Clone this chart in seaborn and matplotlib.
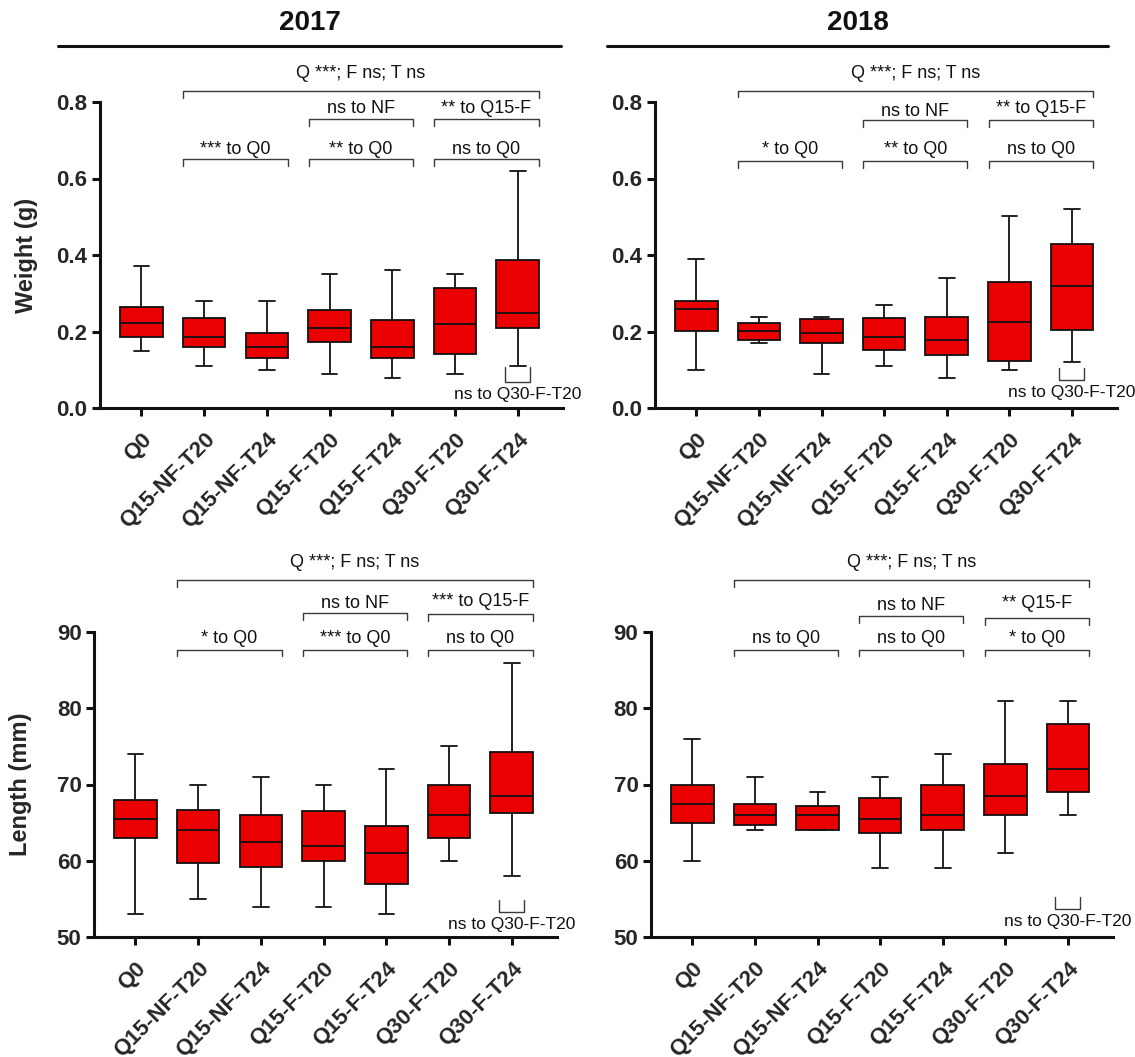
"""Weight and length box plots for the 2017 and 2018 cohorts (Q/F/T treatments)."""

import matplotlib
matplotlib.use("Agg")
import matplotlib.pyplot as plt
import pandas as pd
import seaborn as sns

groups = ["Q0", "Q15-NF-T20", "Q15-NF-T24", "Q15-F-T20", "Q15-F-T24", "Q30-F-T20", "Q30-F-T24"]

# five-number summaries per group: min, q1, median, q3, max
weight_2017 = [
    [0.148, 0.185, 0.223, 0.263, 0.370],
    [0.110, 0.159, 0.185, 0.235, 0.281],
    [0.100, 0.132, 0.159, 0.197, 0.281],
    [0.090, 0.172, 0.209, 0.255, 0.350],
    [0.078, 0.132, 0.159, 0.229, 0.360],
    [0.090, 0.141, 0.220, 0.315, 0.350],
    [0.110, 0.210, 0.249, 0.387, 0.620],
]
weight_2018 = [
    [0.100, 0.201, 0.260, 0.281, 0.390],
    [0.169, 0.179, 0.201, 0.221, 0.239],
    [0.090, 0.169, 0.195, 0.233, 0.239],
    [0.110, 0.152, 0.185, 0.235, 0.270],
    [0.078, 0.139, 0.179, 0.238, 0.339],
    [0.100, 0.124, 0.224, 0.330, 0.501],
    [0.119, 0.205, 0.319, 0.430, 0.519],
]
length_2017 = [
    [53.0, 63.0, 65.5, 68.0, 74.0],
    [55.0, 59.7, 64.0, 66.7, 70.0],
    [54.0, 59.2, 62.5, 66.0, 71.0],
    [54.0, 60.0, 62.0, 66.5, 70.0],
    [53.0, 57.0, 61.0, 64.5, 72.0],
    [60.0, 63.0, 66.0, 70.0, 75.0],
    [58.0, 66.2, 68.5, 74.25, 86.0],
]
length_2018 = [
    [60.0, 65.0, 67.5, 70.0, 76.0],
    [64.0, 64.7, 66.0, 67.5, 71.0],
    [64.0, 64.0, 66.0, 67.2, 69.0],
    [59.0, 63.7, 65.5, 68.2, 71.0],
    [59.0, 64.0, 66.0, 70.0, 74.0],
    [61.0, 66.0, 68.5, 72.7, 81.0],
    [66.0, 69.0, 72.0, 78.0, 81.0],
]

# significance brackets: (first group, last group, bracket y, label, label y)
brackets_w17 = [
    (1, 6, 0.828, "Q ***; F ns; T ns", 0.874),
    (3, 4, 0.756, "ns to NF", 0.782),
    (5, 6, 0.756, "** to Q15-F", 0.782),
    (1, 2, 0.651, "*** to Q0", 0.675),
    (3, 4, 0.651, "** to Q0", 0.675),
    (5, 6, 0.651, "ns to Q0", 0.675),
]
brackets_w18 = [
    (1, 6, 0.830, "Q ***; F ns; T ns", 0.874),
    (3, 4, 0.752, "ns to NF", 0.776),
    (5, 6, 0.752, "** to Q15-F", 0.782),
    (1, 2, 0.645, "* to Q0", 0.675),
    (3, 4, 0.645, "** to Q0", 0.675),
    (5, 6, 0.645, "ns to Q0", 0.675),
]
brackets_l17 = [
    (1, 6, 96.8, "Q ***; F ns; T ns", 99.1),
    (3, 4, 92.5, "ns to NF", 93.8),
    (5, 6, 92.3, "*** to Q15-F", 94.0),
    (1, 2, 87.7, "* to Q0", 89.1),
    (3, 4, 87.7, "*** to Q0", 89.1),
    (5, 6, 87.7, "ns to Q0", 89.1),
]
brackets_l18 = [
    (1, 6, 96.8, "Q ***; F ns; T ns", 99.1),
    (3, 4, 92.1, "ns to NF", 93.5),
    (5, 6, 91.8, "** Q15-F", 93.8),
    (1, 2, 87.7, "ns to Q0", 89.1),
    (3, 4, 87.7, "ns to Q0", 89.1),
    (5, 6, 87.7, "* to Q0", 89.1),
]
# small bracket under Q30-F-T24: (top y, bottom y, label y)
low_w17 = (0.107, 0.068, 0.034)
low_w18 = (0.105, 0.074, 0.041)
low_l17 = (54.9, 53.3, 51.6)
low_l18 = (55.2, 53.7, 52.0)
low_label = "ns to Q30-F-T20"

RED = "#EA0000"
INK = "#111111"
BRACKET = "#3a3a3a"
FIG_W, FIG_H = 1135, 1057


def to_frame(summary):
    rows = []
    for name, values in zip(groups, summary):
        for v in values:
            rows.append({"group": name, "value": v})
    return pd.DataFrame(rows)


def draw_panel(ax, summary, brackets, low, yticks, ylabel, tick_fmt):
    df = to_frame(summary)
    sns.boxplot(
        data=df, x="group", y="value", order=groups, color=RED, saturation=1,
        width=0.68, whis=(0, 100), linecolor=INK, linewidth=1.3, fliersize=0,
        capwidths=0.25, ax=ax,
    )
    ymin, ymax = yticks[0], yticks[-1]
    ax.set_xlim(-0.66, 6.72)
    ax.set_ylim(ymin, ymax)
    ax.set_yticks(yticks)
    ax.set_yticklabels([tick_fmt.format(t) for t in yticks], fontsize=16, fontweight="bold")
    ax.set_xticks(range(len(groups)))
    ax.set_xticklabels(groups, rotation=45, ha="right", va="top", rotation_mode="anchor",
                       fontsize=16, fontweight="bold")
    ax.set_xlabel("")
    ax.set_ylabel("")
    ax.text(-0.158, 0.5, ylabel, transform=ax.transAxes, rotation=90, ha="center", va="center",
            fontsize=17, fontweight="bold")
    sns.despine(ax=ax)
    for side in ["left", "bottom"]:
        ax.spines[side].set_linewidth(2.2)
        ax.spines[side].set_color(INK)
    ax.tick_params(axis="both", width=2.2, length=6, color=INK, pad=3)
    ax.tick_params(axis="x", pad=9)

    span = ymax - ymin
    drop = span * 0.022
    half = 0.33
    for g0, g1, y, label, ty in brackets:
        x0, x1 = g0 - half, g1 + half
        ax.plot([x0, x0, x1, x1], [y - drop, y, y, y - drop], color=BRACKET, lw=1.0, clip_on=False)
        ax.text((x0 + x1) / 2, ty, label, ha="center", va="center", fontsize=13, color=INK)

    top, bottom, ty = low
    ax.plot([5.8, 5.8, 6.2, 6.2], [top, bottom, bottom, top], color=BRACKET, lw=1.0, clip_on=False)
    ax.text(6.0, ty, low_label, ha="center", va="center", fontsize=12.5, color=INK, clip_on=False)


sns.set_theme(style="ticks")
plt.rcParams["font.family"] = ["Liberation Sans", "DejaVu Sans"]

fig = plt.figure(figsize=(FIG_W / 100, FIG_H / 100), dpi=100)


def add_axes(left_px, top_px, right_px, bottom_px):
    return fig.add_axes([
        left_px / FIG_W,
        1 - bottom_px / FIG_H,
        (right_px - left_px) / FIG_W,
        (bottom_px - top_px) / FIG_H,
    ])


ax_w17 = add_axes(100, 102, 563, 408)
ax_w18 = add_axes(655, 102, 1117, 408)
ax_l17 = add_axes(94, 632, 557, 937)
ax_l18 = add_axes(651, 632, 1113, 937)

draw_panel(ax_w17, weight_2017, brackets_w17, low_w17, [0.0, 0.2, 0.4, 0.6, 0.8], "Weight (g)", "{:.1f}")
draw_panel(ax_w18, weight_2018, brackets_w18, low_w18, [0.0, 0.2, 0.4, 0.6, 0.8], "", "{:.1f}")
draw_panel(ax_l17, length_2017, brackets_l17, low_l17, [50, 60, 70, 80, 90], "Length (mm)", "{:.0f}")
draw_panel(ax_l18, length_2018, brackets_l18, low_l18, [50, 60, 70, 80, 90], "", "{:.0f}")

# year headers with rule underneath
for year, x0, x1 in [("2017", 58, 561), ("2018", 607, 1108)]:
    fig.text((x0 + x1) / 2 / FIG_W, 1 - 23 / FIG_H, year, ha="center", va="center",
             fontsize=20, fontweight="bold", color=INK)
    fig.add_artist(plt.Line2D([x0 / FIG_W, x1 / FIG_W], [1 - 46 / FIG_H] * 2,
                              color=INK, lw=2.2, transform=fig.transFigure))

fig.savefig("out.png", dpi=100)
plt.close(fig)
